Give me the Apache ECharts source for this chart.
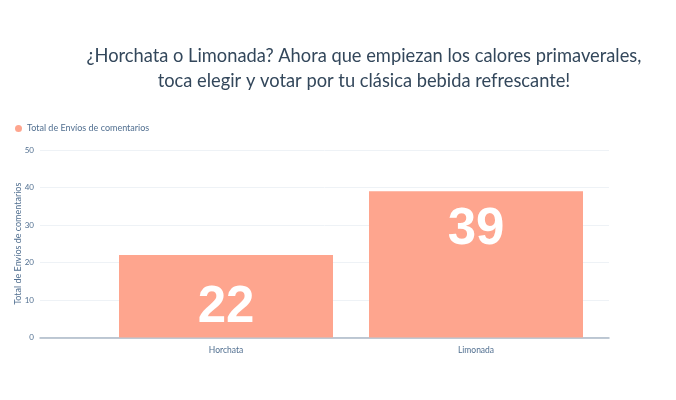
<!DOCTYPE html>
<html>
<head>
<meta charset="utf-8">
<script src="https://cdn.jsdelivr.net/npm/echarts@6/dist/echarts.min.js"></script>
<style>
  html, body { margin: 0; padding: 0; background: #fff; }
  #grafica { width: 676px; height: 400px; }
</style>
</head>
<body>
<div id="grafica"></div>
<script>
// datos de la grafica
const categorias = ['Horchata', 'Limonada'];
const envios = [22, 39];
const ticks_y = [0, 10, 20, 30, 40, 50];
const nombre_serie = 'Total de Envíos de comentarios';
const titulo = '¿Horchata o Limonada? Ahora que empiezan los calores primaverales,\ntoca elegir y votar por tu clásica bebida refrescante!';

// posicion de la etiqueta dentro de cada barra (px desde arriba)
const offset_etiqueta = [53, 39];

let grafica = echarts.init(document.querySelector('#grafica'));

let option = {
    animation: false,
    title: {
        text: titulo,
        left: 359,
        top: 39,
        textAlign: 'center',
        textStyle: {
            fontFamily: 'Lato',
            fontSize: 18.3,
            fontWeight: 'normal',
            color: '#33475b',
            lineHeight: 25
        }
    },
    legend: {
        data: [nombre_serie],
        left: 10,
        top: 119,
        icon: 'circle',
        itemWidth: 7,
        itemHeight: 7,
        itemGap: 4,
        textStyle: { fontFamily: 'Lato', fontSize: 9, color: '#516f90' }
    },
    grid: [
        { left: 40, right: 67, top: 150, bottom: 62.5 },
        { left: 101, right: 75, top: 150, bottom: 62.5 }
    ],
    xAxis: [
        {
            type: 'category',
            gridIndex: 0,
            data: categorias,
            axisLine: { lineStyle: { color: '#aab8c6', width: 1.5 } },
            axisTick: { show: false },
            axisLabel: { show: false }
        },
        {
            type: 'category',
            gridIndex: 1,
            data: categorias,
            axisLine: { show: false },
            axisTick: { show: false },
            axisLabel: { fontFamily: 'Lato', fontSize: 8.5, color: '#516f90', margin: 8 }
        }
    ],
    yAxis: [
        {
            type: 'value',
            gridIndex: 0,
            min: ticks_y[0],
            max: ticks_y[ticks_y.length - 1],
            interval: 10,
            name: nombre_serie,
            nameLocation: 'middle',
            nameGap: 17,
            nameMoveOverlap: false,
            nameTextStyle: { fontFamily: 'Lato', fontSize: 9, color: '#516f90' },
            axisLine: { show: false },
            axisTick: { show: false },
            axisLabel: { fontFamily: 'Lato', fontSize: 8, color: '#516f90', margin: 6 },
            splitLine: { lineStyle: { color: '#eef2f6' } }
        },
        {
            type: 'value',
            gridIndex: 1,
            min: ticks_y[0],
            max: ticks_y[ticks_y.length - 1],
            interval: 10,
            show: false
        }
    ],
    series: [
        {
            name: nombre_serie,
            type: 'bar',
            xAxisIndex: 1,
            yAxisIndex: 1,
            barCategoryGap: '14.4%',
            itemStyle: { color: '#fea58e' },
            data: envios.map((v, i) => ({
                value: v,
                label: {
                    show: true,
                    position: ['50%', offset_etiqueta[i]],
                    align: 'center',
                    verticalAlign: 'middle',
                    fontFamily: 'Liberation Sans',
                    fontWeight: 'bold',
                    fontSize: 51,
                    color: '#ffffff'
                }
            }))
        }
    ]
};

grafica.setOption(option);
</script>
</body>
</html>
